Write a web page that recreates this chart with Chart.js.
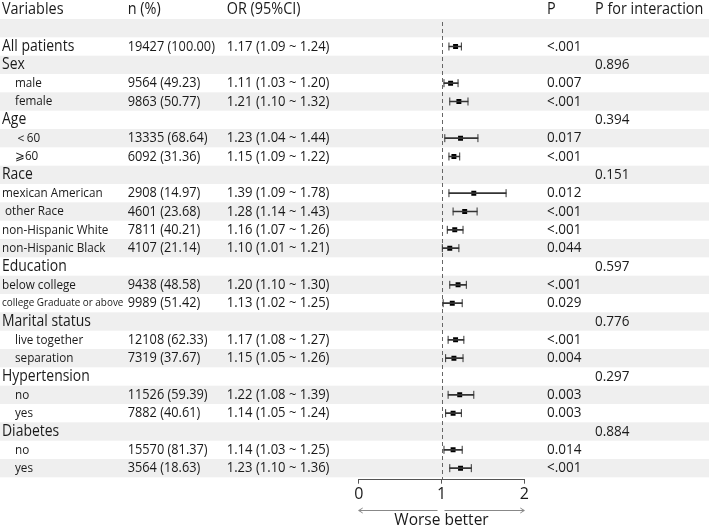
<!DOCTYPE html>
<html><head><meta charset="utf-8">
<script src="https://cdn.jsdelivr.net/npm/chart.js@4"></script>
<style>html,body{margin:0;padding:0;background:#fff;}canvas{display:block;}</style>
</head><body>
<canvas id="c" width="709" height="526"></canvas>
<script>
// ---------------- data ----------------
const headers = ['Variables', 'n (%)', 'OR (95%CI)', 'P', 'P for interaction'];
const variables = ['', 'All patients', 'Sex', 'male', 'female', 'Age', '\uFF1C60', '\u2A7E60',
  'Race', 'mexican American', ' other Race', 'non-Hispanic White', 'non-Hispanic Black',
  'Education', 'below college', 'college Graduate or above',
  'Marital status', 'live together', 'separation',
  'Hypertension', 'no', 'yes', 'Diabetes', 'no', 'yes'];
const level = [0, 0, 0, 1, 1, 0, 1, 1, 0, 1, 1, 1, 1, 0, 1, 1, 0, 1, 1, 0, 1, 1, 0, 1, 1];
const nPercent = ['', '19427 (100.00)', '', '9564 (49.23)', '9863 (50.77)', '', '13335 (68.64)', '6092 (31.36)',
  '', '2908 (14.97)', '4601 (23.68)', '7811 (40.21)', '4107 (21.14)',
  '', '9438 (48.58)', '9989 (51.42)', '', '12108 (62.33)', '7319 (37.67)',
  '', '11526 (59.39)', '7882 (40.61)', '', '15570 (81.37)', '3564 (18.63)'];
const orValue = [null, 1.17, null, 1.11, 1.21, null, 1.23, 1.15, null, 1.39, 1.28, 1.16, 1.10,
  null, 1.20, 1.13, null, 1.17, 1.15, null, 1.22, 1.14, null, 1.14, 1.23];
const ciLower = [null, 1.09, null, 1.03, 1.10, null, 1.04, 1.09, null, 1.09, 1.14, 1.07, 1.01,
  null, 1.10, 1.02, null, 1.08, 1.05, null, 1.08, 1.05, null, 1.03, 1.10];
const ciUpper = [null, 1.24, null, 1.20, 1.32, null, 1.44, 1.22, null, 1.78, 1.43, 1.26, 1.21,
  null, 1.30, 1.25, null, 1.27, 1.26, null, 1.39, 1.24, null, 1.25, 1.36];
const pValue = ['', '<.001', '', '0.007', '<.001', '', '0.017', '<.001', '', '0.012', '<.001', '<.001', '0.044',
  '', '<.001', '0.029', '', '<.001', '0.004', '', '0.003', '0.003', '', '0.014', '<.001'];
const pInteraction = ['', '', '0.896', '', '', '0.394', '', '', '0.151', '', '', '', '',
  '0.597', '', '', '0.776', '', '', '0.297', '', '', '0.884', '', ''];
const xTicks = [0, 1, 2];
const refValue = 1;
const axisTitle = 'Worse better';

// ---------------- styling ----------------
const FONT = '"Open Sans", "Noto Sans", sans-serif';
const SX = 0.9;
const TEXT = '#1a1a1a';
const STRIPE = '#efefef';
const flushGroups = ['Race', 'Education'];
const smallLabels = ['college Graduate or above'];

function orText(i) {
  return orValue[i].toFixed(2) + ' (' + ciLower[i].toFixed(2) + ' ~ ' + ciUpper[i].toFixed(2) + ')';
}

const ciData = [], capData = [], ptData = [];
variables.forEach((v, i) => {
  if (orValue[i] != null) {
    ciData.push({ x: [ciLower[i], ciUpper[i]], y: i });
    capData.push({ x: ciLower[i], y: i }, { x: ciUpper[i], y: i });
    ptData.push({ x: orValue[i], y: i });
  }
});

function drawText(ctx, s, x, y, size, align) {
  ctx.save();
  ctx.font = size + 'px ' + FONT;
  ctx.fillStyle = TEXT;
  ctx.textBaseline = 'middle';
  ctx.textAlign = align || 'left';
  ctx.translate(x, y);
  ctx.scale(SX, 1);
  ctx.fillText(s, 0, 0);
  ctx.restore();
}

const tablePlugin = {
  id: 'table',
  beforeDraw(chart) {
    const ctx = chart.ctx, ys = chart.scales.y;
    ctx.save();
    ctx.fillStyle = '#fff';
    ctx.fillRect(0, 0, chart.width, chart.height);
    ctx.fillStyle = STRIPE;
    variables.forEach((v, i) => {
      if (i % 2 === 0) {
        const t = ys.getPixelForValue(i - 0.5), b = ys.getPixelForValue(i + 0.5);
        ctx.fillRect(0, t, chart.width, b - t);
      }
    });
    ctx.restore();
  },
  beforeDatasetsDraw(chart) {
    const ctx = chart.ctx, xs = chart.scales.x, ca = chart.chartArea;
    const x = Math.round(xs.getPixelForValue(refValue)) + 0.5;
    ctx.save();
    ctx.strokeStyle = '#666';
    ctx.lineWidth = 1;
    ctx.setLineDash([4, 3]);
    ctx.beginPath();
    ctx.moveTo(x, ca.top + 3);
    ctx.lineTo(x, ca.bottom);
    ctx.stroke();
    ctx.restore();
  },
  afterDraw(chart) {
    const ctx = chart.ctx, ys = chart.scales.y, xs = chart.scales.x;
    const hy = ys.getPixelForValue(-1);
    const colX = [2, 127.7, 226.7, 547, 595];
    headers.forEach((h, k) => drawText(ctx, h, colX[k], hy, 16));
    let group = '';
    variables.forEach((v, i) => {
      const y = ys.getPixelForValue(i);
      if (level[i] === 0) {
        group = v;
        if (v) drawText(ctx, v, 2, y, 15.5);
      } else {
        const indent = flushGroups.includes(group) ? 2 : 15;
        const size = smallLabels.includes(v) ? 11 : 13;
        drawText(ctx, v, indent, y, size);
      }
      if (nPercent[i]) drawText(ctx, nPercent[i], colX[1], y, 14.2);
      if (orValue[i] != null) drawText(ctx, orText(i), colX[2], y, 14.5);
      if (pValue[i]) drawText(ctx, pValue[i], colX[3], y, 15);
      if (pInteraction[i]) drawText(ctx, pInteraction[i], colX[4], y, 15);
    });
    // arrows under the axis
    const ay = 510.5;
    const x0 = xs.getPixelForValue(xTicks[0]);
    const x1 = xs.getPixelForValue(refValue);
    const x2 = xs.getPixelForValue(xTicks[xTicks.length - 1]);
    ctx.save();
    ctx.strokeStyle = '#888';
    ctx.lineWidth = 1;
    ctx.beginPath();
    ctx.moveTo(x1 - 4, ay); ctx.lineTo(x0, ay);
    ctx.moveTo(x0 + 4, ay - 2.5); ctx.lineTo(x0, ay); ctx.lineTo(x0 + 4, ay + 2.5);
    ctx.moveTo(x1 + 3, ay); ctx.lineTo(x2, ay);
    ctx.moveTo(x2 - 4, ay - 2.5); ctx.lineTo(x2, ay); ctx.lineTo(x2 - 4, ay + 2.5);
    ctx.stroke();
    ctx.restore();
  }
};

new Chart(document.getElementById('c'), {
  type: 'scatter',
  data: {
    datasets: [
      { type: 'bar', indexAxis: 'y', data: ciData, backgroundColor: '#333', borderWidth: 0, barThickness: 1 },
      { type: 'scatter', data: capData, pointStyle: 'line', rotation: 90, radius: 4, borderColor: '#333', borderWidth: 1 },
      { type: 'scatter', data: ptData, pointStyle: 'rect', radius: 3.5, backgroundColor: '#000', borderWidth: 0 }
    ]
  },
  options: {
    responsive: false,
    animation: false,
    devicePixelRatio: 1,
    layout: { padding: { top: 19, left: 358.7, right: 184.7, bottom: 0 } },
    plugins: { legend: { display: false }, tooltip: { enabled: false } },
    events: [],
    scales: {
      x: {
        type: 'linear', min: 0, max: 2, offset: false,
        afterBuildTicks: (s) => { s.ticks = xTicks.map(v => ({ value: v })); },
        ticks: { font: { family: FONT, size: 16, lineHeight: 1.4 }, color: TEXT, padding: 0 },
        grid: { drawOnChartArea: false, tickLength: 4, color: '#555', offset: false },
        border: { color: '#555' },
        title: { display: true, text: axisTitle, color: TEXT, font: { family: FONT, size: 15.5, lineHeight: 1 }, padding: { top: 6.4, bottom: -2 } }
      },
      y: { type: 'linear', reverse: true, min: -0.5, max: 24.63, offset: false, grid: { offset: false }, display: false }
    }
  },
  plugins: [tablePlugin]
});
</script>
</body></html>
